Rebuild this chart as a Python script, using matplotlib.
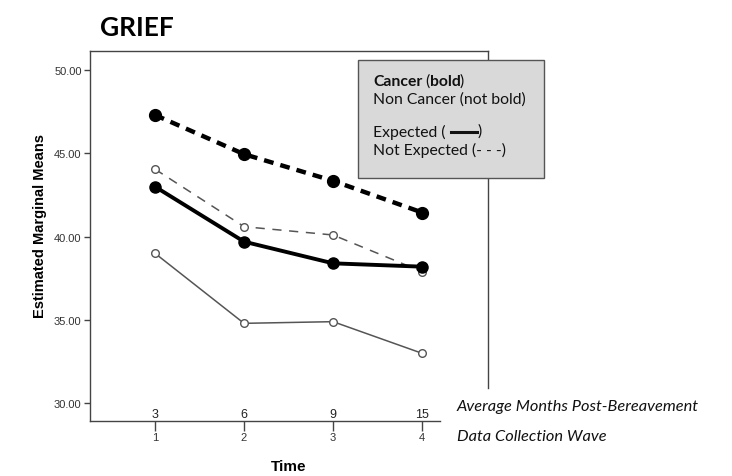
import matplotlib

matplotlib.use("Agg")
import matplotlib.pyplot as plt  # noqa: E402
from matplotlib.lines import Line2D  # noqa: E402
from matplotlib.transforms import blended_transform_factory  # noqa: E402

waves = [1, 2, 3, 4]
months = ["3", "6", "9", "15"]
y_ticks = [30, 35, 40, 45, 50]

cancer_not_expected = [47.3, 44.95, 43.35, 41.45]
cancer_expected = [43.0, 39.7, 38.4, 38.2]
noncancer_not_expected = [44.05, 40.6, 40.1, 37.9]
noncancer_expected = [39.0, 34.8, 34.9, 33.0]

W, H = 732, 477
fig = plt.figure(figsize=(W / 100, H / 100), dpi=100)
ax = fig.add_axes([90 / W, (H - 422) / H, (488 - 90) / W, (422 - 52) / H])
ax.set_xlim(0.27, 4.74)
ax.set_ylim(28.94, 51.14)

frame_col = "#444444"
for s in ax.spines.values():
    s.set_color(frame_col)
    s.set_linewidth(1.0)
ax.spines["bottom"].set_bounds(0.27, 4.2)
ax.spines["right"].set_bounds(30.92, 51.14)

# series
ax.plot(waves, noncancer_expected, color="#555555", lw=1.1, marker="o",
        ms=5.5, mfc="white", mec="#555555", mew=1.0, zorder=3)
ax.plot(waves, noncancer_not_expected, color="#555555", lw=1.1, ls=(0, (6, 5)),
        marker="o", ms=5.5, mfc="white", mec="#555555", mew=1.0, zorder=3)
ax.plot(waves, cancer_expected, color="black", lw=2.8, marker="o", ms=8,
        mfc="black", mec="black", zorder=4)
ax.plot(waves, cancer_not_expected, color="black", lw=3.2, ls=(0, (2.2, 1.6)),
        marker="o", ms=8.5, mfc="black", mec="black", zorder=4)

tick_font = {"family": "Liberation Sans", "size": 8, "color": "#333333"}
ax.set_yticks(y_ticks)
ax.set_yticklabels([f"{v:.2f}" for v in y_ticks], fontdict=tick_font)
ax.set_xticks(waves)
ax.set_xticklabels([str(w) for w in waves], fontdict=tick_font)
ax.tick_params(axis="y", length=4, width=1, color=frame_col, pad=2)
ax.tick_params(axis="x", length=7, width=1, color=frame_col, pad=1)

trans = blended_transform_factory(ax.transData, ax.transAxes)
for w, m in zip(waves, months):
    ax.text(w, 0.004, m, transform=trans, ha="center", va="bottom",
            fontsize=9, family="Liberation Sans", color="#222222")

fig.text(40 / W, 1 - 226 / H, "Estimated Marginal Means", rotation=90,
         fontsize=10.5, fontweight="bold", family="Liberation Sans",
         ha="center", va="center")
fig.text(289 / W, 1 - 467 / H, "Time", fontsize=11, fontweight="bold",
         family="Liberation Sans", ha="center", va="center")

fig.text(100 / W, 1 - 28 / H, "GRIEF", fontsize=19, fontweight="bold",
         family="Lato", va="center", ha="left")

# legend box
box = plt.Rectangle((358 / W, 1 - 179 / H), (544 - 358) / W, (179 - 61) / H,
                    transform=fig.transFigure, facecolor="#d9d9d9",
                    edgecolor="#555555", lw=1.0, zorder=5)
fig.add_artist(box)
lg_font = {"family": "Lato", "size": 11.3, "color": "#111111"}
fig.text(373 / W, 1 - 82 / H, "Cancer", fontweight="bold", va="center", zorder=6, **lg_font)
fig.text(425 / W, 1 - 82 / H, "(", va="center", zorder=6, **lg_font)
fig.text(430 / W, 1 - 82 / H, "bold", fontweight="bold", va="center", zorder=6, **lg_font)
fig.text(460 / W, 1 - 82 / H, ")", va="center", zorder=6, **lg_font)
fig.text(373 / W, 1 - 100 / H, "Non Cancer (not bold)", va="center", zorder=6, **lg_font)
fig.text(373 / W, 1 - 132 / H, "Expected (", va="center", zorder=6, **lg_font)
fig.add_artist(Line2D([451 / W, 477 / W], [1 - 133 / H, 1 - 133 / H],
                      transform=fig.transFigure, color="#111111", lw=2.2, zorder=6))
fig.text(478 / W, 1 - 132 / H, ")", va="center", zorder=6, **lg_font)
fig.text(373 / W, 1 - 150 / H, "Not Expected (- - -)", va="center", zorder=6, **lg_font)

side_font = {"family": "Lato", "size": 11.8, "style": "italic", "color": "#111111"}
fig.text(457 / W, 1 - 407 / H, "Average Months Post-Bereavement", va="center", **side_font)
fig.text(457 / W, 1 - 437 / H, "Data Collection Wave", va="center", **side_font)

fig.savefig("out.png", dpi=100)
